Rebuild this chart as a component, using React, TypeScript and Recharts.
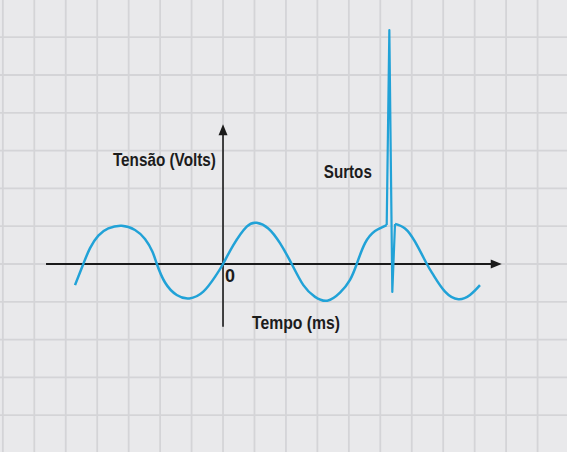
import React from 'react';
import { LineChart, Line, XAxis, YAxis, ReferenceLine, ReferenceDot } from 'recharts';

// Sine part before the surge: time (ms) and voltage (relative units)
const waveBeforeTime = [
  -21.93, -20.7, -19.7, -18.47, -16.99, -15.01, -13.04, -11.56, -10.47, -9.8,
  -8.59, -6.86, -4.99, -2.92, -1.19, 0, 1.53, 3.51, 4.99, 6.71,
  8.44, 10.18, 11.9, 13.63, 15.45, 17.33, 18.81, 19.81, 21.04, 22.52,
  24.25,
];
const waveBeforeVolt = [
  -0.56, 0, 0.42, 0.75, 0.94, 1.01, 0.9, 0.66, 0.33, 0,
  -0.49, -0.82, -0.91, -0.73, -0.34, 0, 0.5, 0.99, 1.09, 0.94,
  0.55, 0, -0.56, -0.87, -0.97, -0.76, -0.42, 0, 0.55, 0.87,
  1.03,
];
// The surge spike
const spikeTime = [24.25, 24.64, 25.08, 25.48];
const spikeVolt = [1.03, 6.19, -0.74, 1.06];
// Sine part after the surge
const waveAfterTime = [25.48, 26.96, 28.44, 30.2, 31.16, 32.89, 34.86, 36.59, 38.07];
const waveAfterVolt = [1.06, 0.94, 0.59, 0, -0.29, -0.73, -0.93, -0.82, -0.56];

// Background grid positions (data units)
const gridTimeTicks = [
  -32.62, -27.96, -23.3, -18.64, -13.98, -9.32, -4.66, 0, 4.66, 9.32,
  13.98, 18.64, 23.3, 27.96, 32.62, 37.28, 41.94, 46.6,
];
const gridVoltTicks = [-4, -3, -2, -1, 0, 1, 2, 3, 4, 5, 6];

// Axis extents (data units)
const timeAxisRange = [-26.22, 41.29];
const voltAxisRange = [-1.66, 3.7];

const labelTexts = {
  voltage: 'Tensão (Volts)',
  surge: 'Surtos',
  origin: '0',
  time: 'Tempo (ms)',
};

const toRows = (ts: number[], vs: number[]) => ts.map((t, i) => ({ t, v: vs[i] }));
const beforeData = toRows(waveBeforeTime, waveBeforeVolt);
const spikeData = toRows(spikeTime, spikeVolt);
const afterData = toRows(waveAfterTime, waveAfterVolt);

const AXIS_COLOR = '#1a1a1a';
const WAVE_COLOR = '#21a2d7';
const GRID_COLOR = '#d4d4d7';

const ArrowLine = (props: any) => {
  const { x1, y1, x2, y2, strokeWidth } = props;
  const ang = Math.atan2(y2 - y1, x2 - x1);
  const L = 11;
  const W = 4.5;
  const bx = x2 - L * Math.cos(ang);
  const by = y2 - L * Math.sin(ang);
  const px = -Math.sin(ang) * W;
  const py = Math.cos(ang) * W;
  return (
    <g>
      <line x1={x1} y1={y1} x2={bx + Math.cos(ang)} y2={by + Math.sin(ang)} stroke={AXIS_COLOR} strokeWidth={strokeWidth} />
      <polygon points={`${x2},${y2} ${bx + px},${by + py} ${bx - px},${by - py}`} fill={AXIS_COLOR} />
    </g>
  );
};

const makeText = (text: string, length?: number) => (p: any) => (
  <text
    x={p.cx}
    y={p.cy}
    textAnchor="middle"
    fontFamily="'Liberation Sans', Arial, sans-serif"
    fontWeight="bold"
    fontSize={18}
    fill="#1c1c1c"
    {...(length ? { textLength: length, lengthAdjust: 'spacingAndGlyphs' } : {})}
  >
    {text}
  </text>
);

export default function App() {
  return (
    <div style={{ position: 'absolute', left: 0, top: 0, width: 567, height: 452, background: '#e9e9eb' }}>
      <LineChart width={567} height={452} margin={{ top: 0, right: 0, bottom: 0, left: 0 }}>
        <XAxis
          type="number"
          dataKey="t"
          domain={[-33.04, 50.96]}
          allowDataOverflow
          hide
        />
        <YAxis
          type="number"
          domain={[-4.974, 6.984]}
          allowDataOverflow
          hide
        />
        {gridTimeTicks.map((t) => (
          <ReferenceLine key={`gx${t}`} x={t} stroke={GRID_COLOR} strokeWidth={1.8} />
        ))}
        {gridVoltTicks.map((v) => (
          <ReferenceLine key={`gy${v}`} y={v} stroke={GRID_COLOR} strokeWidth={1.8} />
        ))}
        <ReferenceLine
          segment={[{ x: timeAxisRange[0], y: 0 }, { x: timeAxisRange[1], y: 0 }]}
          strokeWidth={2}
          shape={ArrowLine}
          ifOverflow="visible"
        />
        <ReferenceLine
          segment={[{ x: 0, y: voltAxisRange[0] }, { x: 0, y: voltAxisRange[1] }]}
          strokeWidth={1.6}
          shape={ArrowLine}
          ifOverflow="visible"
        />
        <Line
          data={beforeData}
          type="natural"
          dataKey="v"
          stroke={WAVE_COLOR}
          strokeWidth={2.5}
          dot={false}
          activeDot={false}
          isAnimationActive={false}
        />
        <Line
          data={spikeData}
          type="linear"
          dataKey="v"
          stroke={WAVE_COLOR}
          strokeWidth={2.2}
          strokeLinejoin="round"
          dot={false}
          activeDot={false}
          isAnimationActive={false}
        />
        <Line
          data={afterData}
          type="natural"
          dataKey="v"
          stroke={WAVE_COLOR}
          strokeWidth={2.5}
          dot={false}
          activeDot={false}
          isAnimationActive={false}
        />
        <ReferenceDot x={-8.68} y={2.59} r={0} ifOverflow="visible" shape={makeText(labelTexts.voltage, 103)} />
        <ReferenceDot x={18.49} y={2.28} r={0} ifOverflow="visible" shape={makeText(labelTexts.surge, 48)} />
        <ReferenceDot x={1.04} y={-0.47} r={0} ifOverflow="visible" shape={makeText(labelTexts.origin)} />
        <ReferenceDot x={10.81} y={-1.72} r={0} ifOverflow="visible" shape={makeText(labelTexts.time, 88)} />
      </LineChart>
    </div>
  );
}
